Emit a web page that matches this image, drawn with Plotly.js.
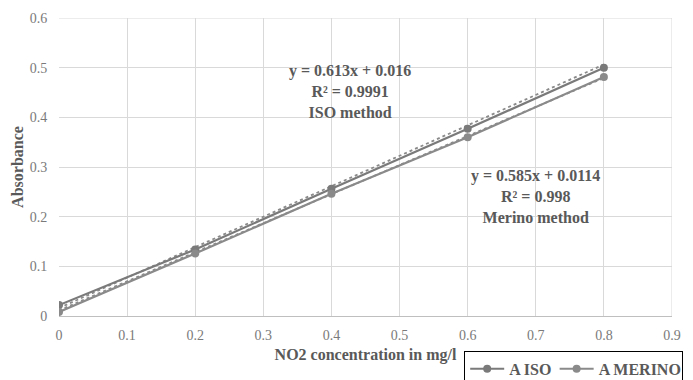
<!DOCTYPE html>
<html><head><meta charset="utf-8">
<script src="https://cdn.plot.ly/plotly-3.0.1.min.js"></script>
<style>html,body{margin:0;padding:0;background:#fff;}#chart{width:693px;height:380px;}</style>
</head><body><div id="chart"></div>
<script>
const conc = [0, 0.2, 0.4, 0.6, 0.8];
const isoAbs = [0.022, 0.134, 0.256, 0.377, 0.500];
const merinoAbs = [0.008, 0.126, 0.246, 0.360, 0.481];
const trendX = [0, 0.8];
const isoTrend = [0.016, 0.5064];
const merinoTrend = [0.0114, 0.4794];
const seriesNames = ['A ISO', 'A MERINO'];
const isoLabel = 'y = 0.613x + 0.016<br>R² = 0.9991<br>ISO method';
const merinoLabel = 'y = 0.585x + 0.0114<br>R² = 0.998<br>Merino method';
const xTicks = [0,0.1,0.2,0.3,0.4,0.5,0.6,0.7,0.8,0.9];
const yTicks = [0,0.1,0.2,0.3,0.4,0.5,0.6];

const serif = '"Liberation Serif", "Times New Roman", serif';
const gray = '#595959';
const tickGray = '#7a7a7a';
const traces = [
  {x: trendX, y: isoTrend, mode: 'lines', line: {color: '#8a8a8a', width: 1.8, dash: 'dot'}, showlegend: false, hoverinfo: 'skip'},
  {x: trendX, y: merinoTrend, mode: 'lines', line: {color: '#8c8c8c', width: 1.8, dash: 'dot'}, showlegend: false, hoverinfo: 'skip'},
  {x: conc, y: isoAbs, name: seriesNames[0], mode: 'lines+markers', line: {color: '#7a7a7a', width: 2.2}, marker: {color: '#7a7a7a', size: 8}},
  {x: conc, y: merinoAbs, name: seriesNames[1], mode: 'lines+markers', line: {color: '#8a8a8a', width: 2.2}, marker: {color: '#8a8a8a', size: 8}}
];
const layout = {
  width: 693, height: 380,
  margin: {l: 59, r: 21, t: 18, b: 64, autoexpand: false},
  paper_bgcolor: '#fff', plot_bgcolor: '#fff',
  font: {family: serif, color: gray, size: 14},
  xaxis: {range: [0, 0.9], tickvals: xTicks, ticktext: xTicks.map(String), showgrid: true, gridcolor: '#d9d9d9', gridwidth: 1,
    zeroline: false, showline: true, linecolor: '#bfbfbf', linewidth: 1, ticks: 'outside', ticklen: 6, tickcolor: 'rgba(0,0,0,0)',
    tickfont: {size: 14, color: tickGray, family: serif}, automargin: false,
    title: {text: '<b>NO2 concentration in mg/l</b>', font: {size: 16, color: gray, family: serif}, standoff: 7}},
  yaxis: {range: [0, 0.6], tickvals: yTicks, ticktext: yTicks.map(String), showgrid: true, gridcolor: '#d9d9d9', gridwidth: 1,
    zeroline: false, showline: false, ticks: 'outside', ticklen: 8, tickcolor: 'rgba(0,0,0,0)',
    tickfont: {size: 14, color: tickGray, family: serif}, automargin: false,
    title: {text: '<b>Absorbance</b>', font: {size: 16, color: gray, family: serif}, standoff: 2}},
  shapes: [
    {type: 'line', xref: 'x', yref: 'y', x0: 0, x1: 0.9, y0: 0.6, y1: 0.6, line: {color: '#d9d9d9', width: 1}},
    {type: 'line', xref: 'x', yref: 'y', x0: 0.9, x1: 0.9, y0: 0, y1: 0.6, line: {color: '#d9d9d9', width: 1}}
  ],
  annotations: [
    {x: 0.427, y: 0.453, xref: 'x', yref: 'y', text: '<b>' + isoLabel + '</b>', showarrow: false, align: 'center', font: {size: 16, color: gray, family: serif}},
    {x: 0.699, y: 0.241, xref: 'x', yref: 'y', text: '<b>' + merinoLabel + '</b>', showarrow: false, align: 'center', font: {size: 16, color: gray, family: serif}}
  ],
  legend: {orientation: 'h', x: 0.661, y: -0.117, xanchor: 'left', yanchor: 'top', bordercolor: '#000', borderwidth: 1,
    bgcolor: '#fff', font: {size: 16, color: gray, family: serif}, itemwidth: 34, tracegroupgap: 0},
  showlegend: true
};
Plotly.newPlot('chart', traces, layout, {displayModeBar: false, staticPlot: true}).then(() => {
  document.querySelectorAll('.legendtext').forEach(t => t.style.fontWeight = 'bold');
});
</script></body></html>
